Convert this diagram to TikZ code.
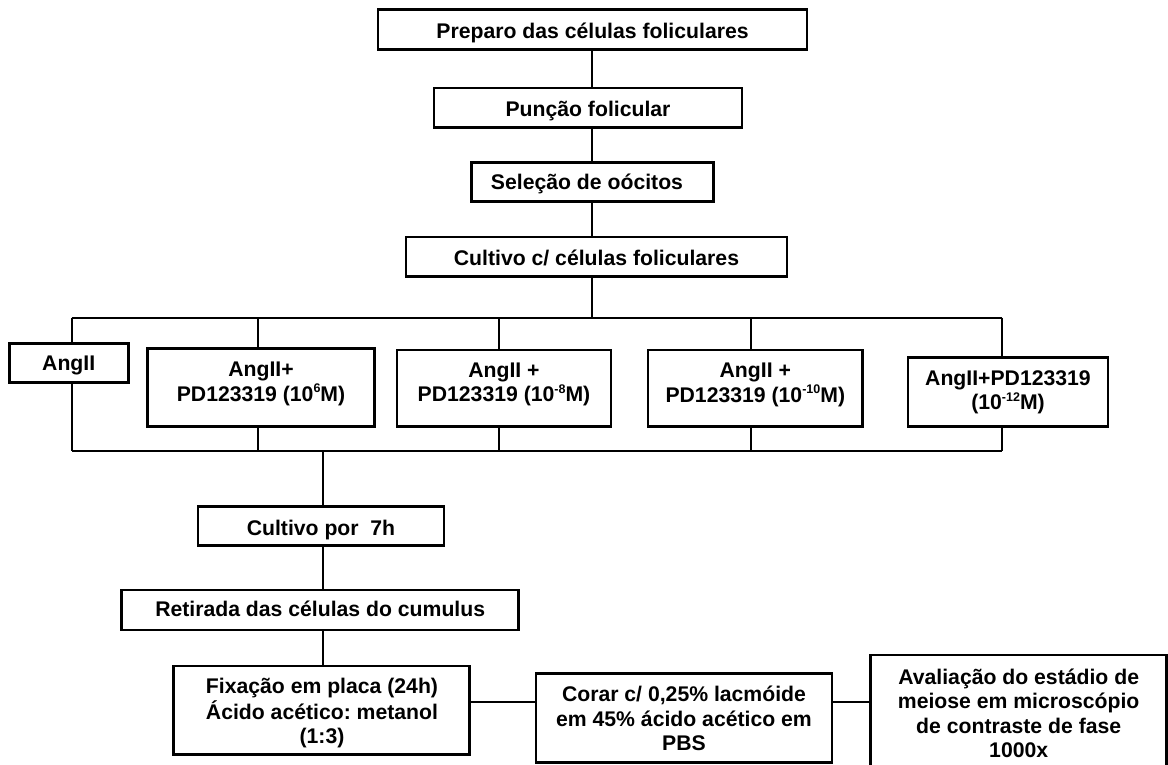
\documentclass[tikz,border=0pt]{standalone}
\usepackage{fontspec}
\setmainfont{Liberation Sans}
\frenchspacing
\tikzset{
  box/.style 2 args={draw, line width=2.8pt, inner sep=0pt, minimum width=#1pt, minimum height=#2pt},
  txt/.style={anchor=base, inner sep=0pt, font=\bfseries\fontsize{21.2pt}{24.5pt}\selectfont},
  conn/.style={line width=2pt}
}
\newcommand\lines[1]{\begin{tabular}[t]{@{}c@{}}#1\end{tabular}}
\newcommand\ssup[1]{\raisebox{8.5pt}{\fontsize{12.5pt}{12.5pt}\selectfont #1}}
\begin{document}
\begin{tikzpicture}[x=1pt,y=-1pt]
\useasboundingbox (0,0) rectangle (1168,764);
% boxes
\node[box={429}{40}]    (b1)  at (592.5,29.5) {};
\node[box={308}{39.7}]  (b2)  at (588,107.9) {};
\node[box={242}{38.6}]  (b3)  at (592.5,182) {};
\node[box={381}{39.7}]  (b4)  at (596.5,256.8) {};
\node[box={119}{39.4}]  (b5)  at (68.7,363) {};
\node[box={227}{78.4}]  (b6)  at (260.8,387.5) {};
\node[box={214}{76.7}]  (b7)  at (504,388.3) {};
\node[box={214.4}{76.7}](b8)  at (755.1,388.3) {};
\node[box={200}{69}]    (b9)  at (1008,392.2) {};
\node[box={246}{39}]    (b10) at (320.9,526.2) {};
\node[box={397}{40}]    (b11) at (320.2,610) {};
\node[box={296}{88.5}]  (b12) at (321.6,710.2) {};
\node[box={296}{89}]    (b13) at (683.9,717.8) {};
\node[box={296}{115}]   (b14) at (1018.7,712.5) {};
% texts
\node[txt] (t1)  at (592.5,38.3)  {\lines{Preparo das células foliculares}};
\node[txt] (t2)  at (588,116.7)   {\lines{Punção folicular}};
\node[txt] (t3)  at (587,189)     {\lines{Seleção de oócitos}};
\node[txt] (t4)  at (596.5,265)   {\lines{Cultivo c/ células foliculares}};
\node[txt] (t5)  at (68.7,370.7)  {\lines{AngII}};
\node[txt] (t6)  at (261,376.7)   {\lines{AngII+\\PD123319 (10\ssup{6}M)}};
\node[txt] (t7)  at (504,377.3)   {\lines{AngII +\\PD123319 (10\ssup{-8}M)}};
\node[txt] (t8)  at (755.3,377.7) {\lines{AngII +\\PD123319 (10\ssup{-10}M)}};
\node[txt] (t9)  at (1008,385.3)  {\lines{AngII+PD123319\\(10\ssup{-12}M)}};
\node[txt] (t10) at (321,535)     {\lines{Cultivo por\ \ 7h}};
\node[txt] (t11) at (320.2,616.7) {\lines{Retirada das células do cumulus}};
\node[txt] (t12) at (322,693.3)   {\lines{Fixação em placa (24h)\\Ácido acético: metanol\\(1:3)}};
\node[txt] (t13) at (684,701.7)   {\lines{Corar c/ 0,25\% lacmóide\\em 45\% ácido acético em\\PBS}};
\node[txt] (t14) at (1018.7,684.3){\lines{Avaliação do estádio de\\meiose em microscópio\\de contraste de fase\\1000x}};
% junction coordinates
\coordinate (s1) at (592.4,317.7);
\coordinate (d1) at (71.6,317.7);
\coordinate (d2) at (257.6,317.7);
\coordinate (d3) at (499.4,317.7);
\coordinate (d4) at (750.6,317.7);
\coordinate (d5) at (1001.8,317.7);
\coordinate (e1) at (71.6,450.7);
\coordinate (e2) at (257.6,450.7);
\coordinate (e3) at (499.4,450.7);
\coordinate (e4) at (750.6,450.7);
\coordinate (e5) at (1001.8,450.7);
\coordinate (s2) at (322.6,450.7);
% connectors
\draw[conn] (b1.south -| s1) -- (b2.north -| s1);
\draw[conn] (b2.south -| s1) -- (b3.north -| s1);
\draw[conn] (b3.south -| s1) -- (b4.north -| s1);
\draw[conn] (b4.south -| s1) -- (s1);
\draw[conn] (d1) -- (d5);
\draw[conn] (d1) -- (b5.north -| d1);
\draw[conn] (d2) -- (b6.north -| d2);
\draw[conn] (d3) -- (b7.north -| d3);
\draw[conn] (d4) -- (b8.north -| d4);
\draw[conn] (d5) -- (b9.north -| d5);
\draw[conn] (b5.south -| e1) -- (e1);
\draw[conn] (b6.south -| e2) -- (e2);
\draw[conn] (b7.south -| e3) -- (e3);
\draw[conn] (b8.south -| e4) -- (e4);
\draw[conn] (b9.south -| e5) -- (e5);
\draw[conn] (e1) -- (e5);
\draw[conn] (s2) -- (b10.north -| s2);
\draw[conn] (b10.south -| s2) -- (b11.north -| s2);
\draw[conn] (b11.south -| s2) -- (b12.north -| s2);
\draw[conn] (b12.east |- 0,701.7) -- (b13.west |- 0,701.7);
\draw[conn] (b13.east |- 0,701.7) -- (b14.west |- 0,701.7);
\end{tikzpicture}
\end{document}
